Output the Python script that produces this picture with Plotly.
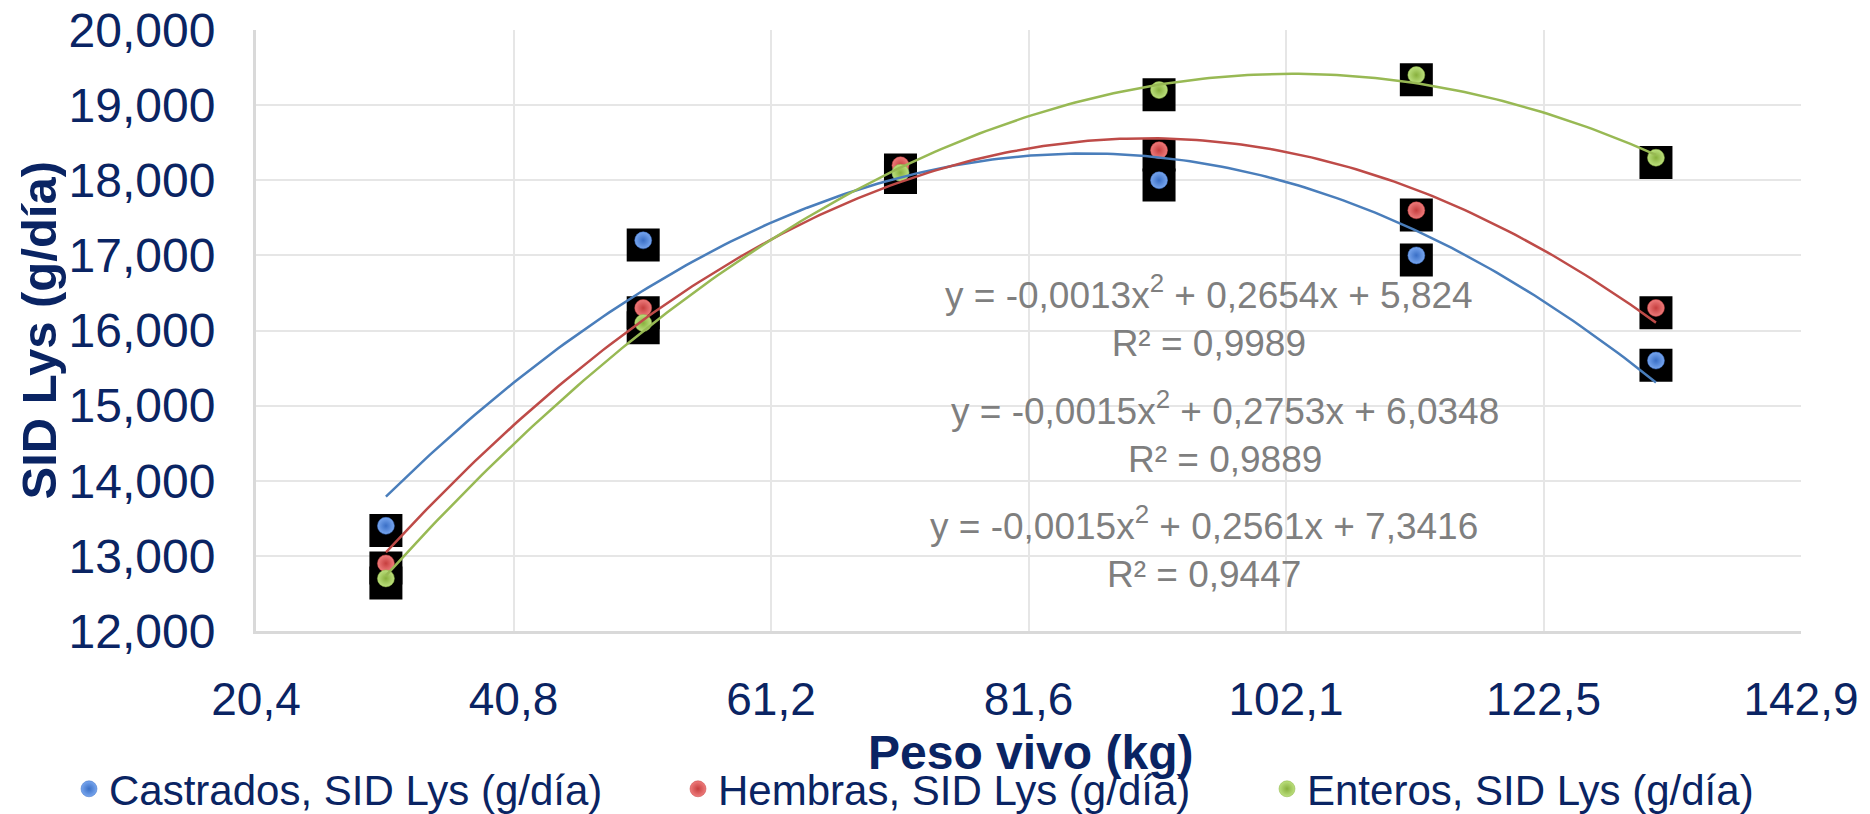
import numpy as np
import plotly.graph_objects as go

# ---- data ----
peso = [30.7, 51.1, 71.5, 92.0, 112.4, 131.4]
castrados = [13.4, 17.2, 18.1, 18.0, 17.0, 15.6]
hembras = [12.9, 16.3, 18.2, 18.4, 17.6, 16.3]
enteros = [12.7, 16.1, 18.1, 19.2, 19.4, 18.3]

series_names = ["Castrados, SID Lys (g/día)", "Hembras, SID Lys (g/día)", "Enteros, SID Lys (g/día)"]
x_tick_text = ["20,4", "40,8", "61,2", "81,6", "102,1", "122,5", "142,9"]
y_tick_vals = [12, 13, 14, 15, 16, 17, 18, 19, 20]
x_title = "Peso vivo (kg)"
y_title = "SID Lys (g/día)"

eq_texts = [
    "y = -0,0013x<sup>2</sup> + 0,2654x + 5,824<br>R² = 0,9989",
    "y = -0,0015x<sup>2</sup> + 0,2753x + 6,0348<br>R² = 0,9889",
    "y = -0,0015x<sup>2</sup> + 0,2561x + 7,3416<br>R² = 0,9447",
]
eq_x = [96.0, 97.2, 95.6]
eq_y = [16.18, 14.64, 13.11]

# ---- styling ----
NAVY = "#0a2463"
FONT = "Liberation Sans, Arial, sans-serif"
marker_fill = ["#78a6ee", "#ee7c7c", "#bce07e"]
marker_edge = ["#3a6fc6", "#c63f3f", "#88b03e"]
line_cols = ["#4a7ebb", "#be4b48", "#98b954"]
legend_ids = ["legend", "legend2", "legend3"]
legend_left_px = [69, 678, 1267]

W, H = 1870, 814
ML, MR, MT, MB = 256, 69, 30, 183
PW, PH = W - ML - MR, H - MT - MB
x_min, x_max = 20.4, 142.9
y_min, y_max = 12, 20
shift = 4.7 * (y_max - y_min) / PH  # black squares sit ~4.7px below points

fig = go.Figure()
all_series = [castrados, hembras, enteros]

# black square backgrounds (base axis, shifted)
for vals in all_series:
    fig.add_trace(go.Scatter(
        x=peso, y=vals, mode="markers", xaxis="x", yaxis="y",
        marker=dict(symbol="square", size=33, color="black", line=dict(width=0)),
        showlegend=False, hoverinfo="skip"))

# circle markers
for vals, name, fc, ec, lg in zip(all_series, series_names, marker_fill, marker_edge, legend_ids):
    fig.add_trace(go.Scatter(
        x=peso, y=vals, mode="markers", name=name, xaxis="x", yaxis="y2", legend=lg,
        marker=dict(symbol="circle", size=17, color=fc,
                    gradient=dict(type="radial", color=ec),
                    line=dict(width=0.5, color=ec))))

# quadratic trendlines
xs = np.linspace(min(peso), max(peso), 200)
for vals, lc in zip(all_series, line_cols):
    coef = np.polyfit(peso, vals, 2)
    fig.add_trace(go.Scatter(
        x=xs, y=np.polyval(coef, xs), mode="lines", xaxis="x", yaxis="y2",
        line=dict(color=lc, width=2.5), showlegend=False, hoverinfo="skip"))

for t, ax, ay in zip(eq_texts, eq_x, eq_y):
    fig.add_annotation(x=ax, y=ay, xref="x", yref="y2", text=t, showarrow=False,
                       font=dict(family=FONT, size=37, color="#7f7f7f"),
                       xanchor="center", yanchor="middle", align="center")

# axis titles
fig.add_annotation(x=(1030 - ML) / PW, y=-(752 - (MT + PH)) / PH, xref="paper", yref="paper",
                   text="<b>" + x_title + "</b>", showarrow=False,
                   font=dict(family=FONT, size=48, color=NAVY), xanchor="center", yanchor="middle")
fig.add_annotation(x=(38 - ML) / PW, y=0.5, xref="paper", yref="paper",
                   text="<b>" + y_title + "</b>", showarrow=False, textangle=-90,
                   font=dict(family=FONT, size=49, color=NAVY), xanchor="center", yanchor="middle")

legend_common = dict(
    orientation="h", xref="container", yref="container",
    xanchor="left", yanchor="middle", y=1 - 789 / H,
    font=dict(size=42, color=NAVY, family=FONT),
    bgcolor="rgba(0,0,0,0)", borderwidth=0, itemsizing="trace",
)
legends = {lg: dict(legend_common, x=lx / W) for lg, lx in zip(legend_ids, legend_left_px)}

fig.update_layout(
    width=W, height=H,
    margin=dict(l=ML, r=MR, t=MT, b=MB, autoexpand=False),
    paper_bgcolor="white", plot_bgcolor="white",
    separators=",.",
    font=dict(family=FONT, color=NAVY),
    xaxis=dict(
        automargin=False,
        range=[x_min, x_max],
        tickvals=list(np.linspace(x_min, x_max, len(x_tick_text))),
        ticktext=x_tick_text,
        tickfont=dict(size=46, color=NAVY, family=FONT),
        ticks="outside", ticklen=26, tickcolor="rgba(0,0,0,0)",
        showgrid=True, gridcolor="#e6e6e6", gridwidth=2,
        showline=True, linecolor="#d9d9d9", linewidth=3,
        zeroline=False,
    ),
    yaxis=dict(
        automargin=False,
        range=[y_min + shift, y_max + shift],
        showgrid=False, showticklabels=False, showline=False, zeroline=False, ticks="",
    ),
    yaxis2=dict(
        automargin=False,
        overlaying="y", side="left",
        range=[y_min, y_max],
        tickvals=y_tick_vals, tickformat=".3f",
        tickfont=dict(size=48, color=NAVY, family=FONT),
        ticks="outside", ticklen=28, tickcolor="rgba(0,0,0,0)",
        showgrid=True, gridcolor="#e6e6e6", gridwidth=2,
        showline=True, linecolor="#d9d9d9", linewidth=3,
        zeroline=False,
    ),
    showlegend=True,
    **legends,
)

fig.write_html("out.html")
